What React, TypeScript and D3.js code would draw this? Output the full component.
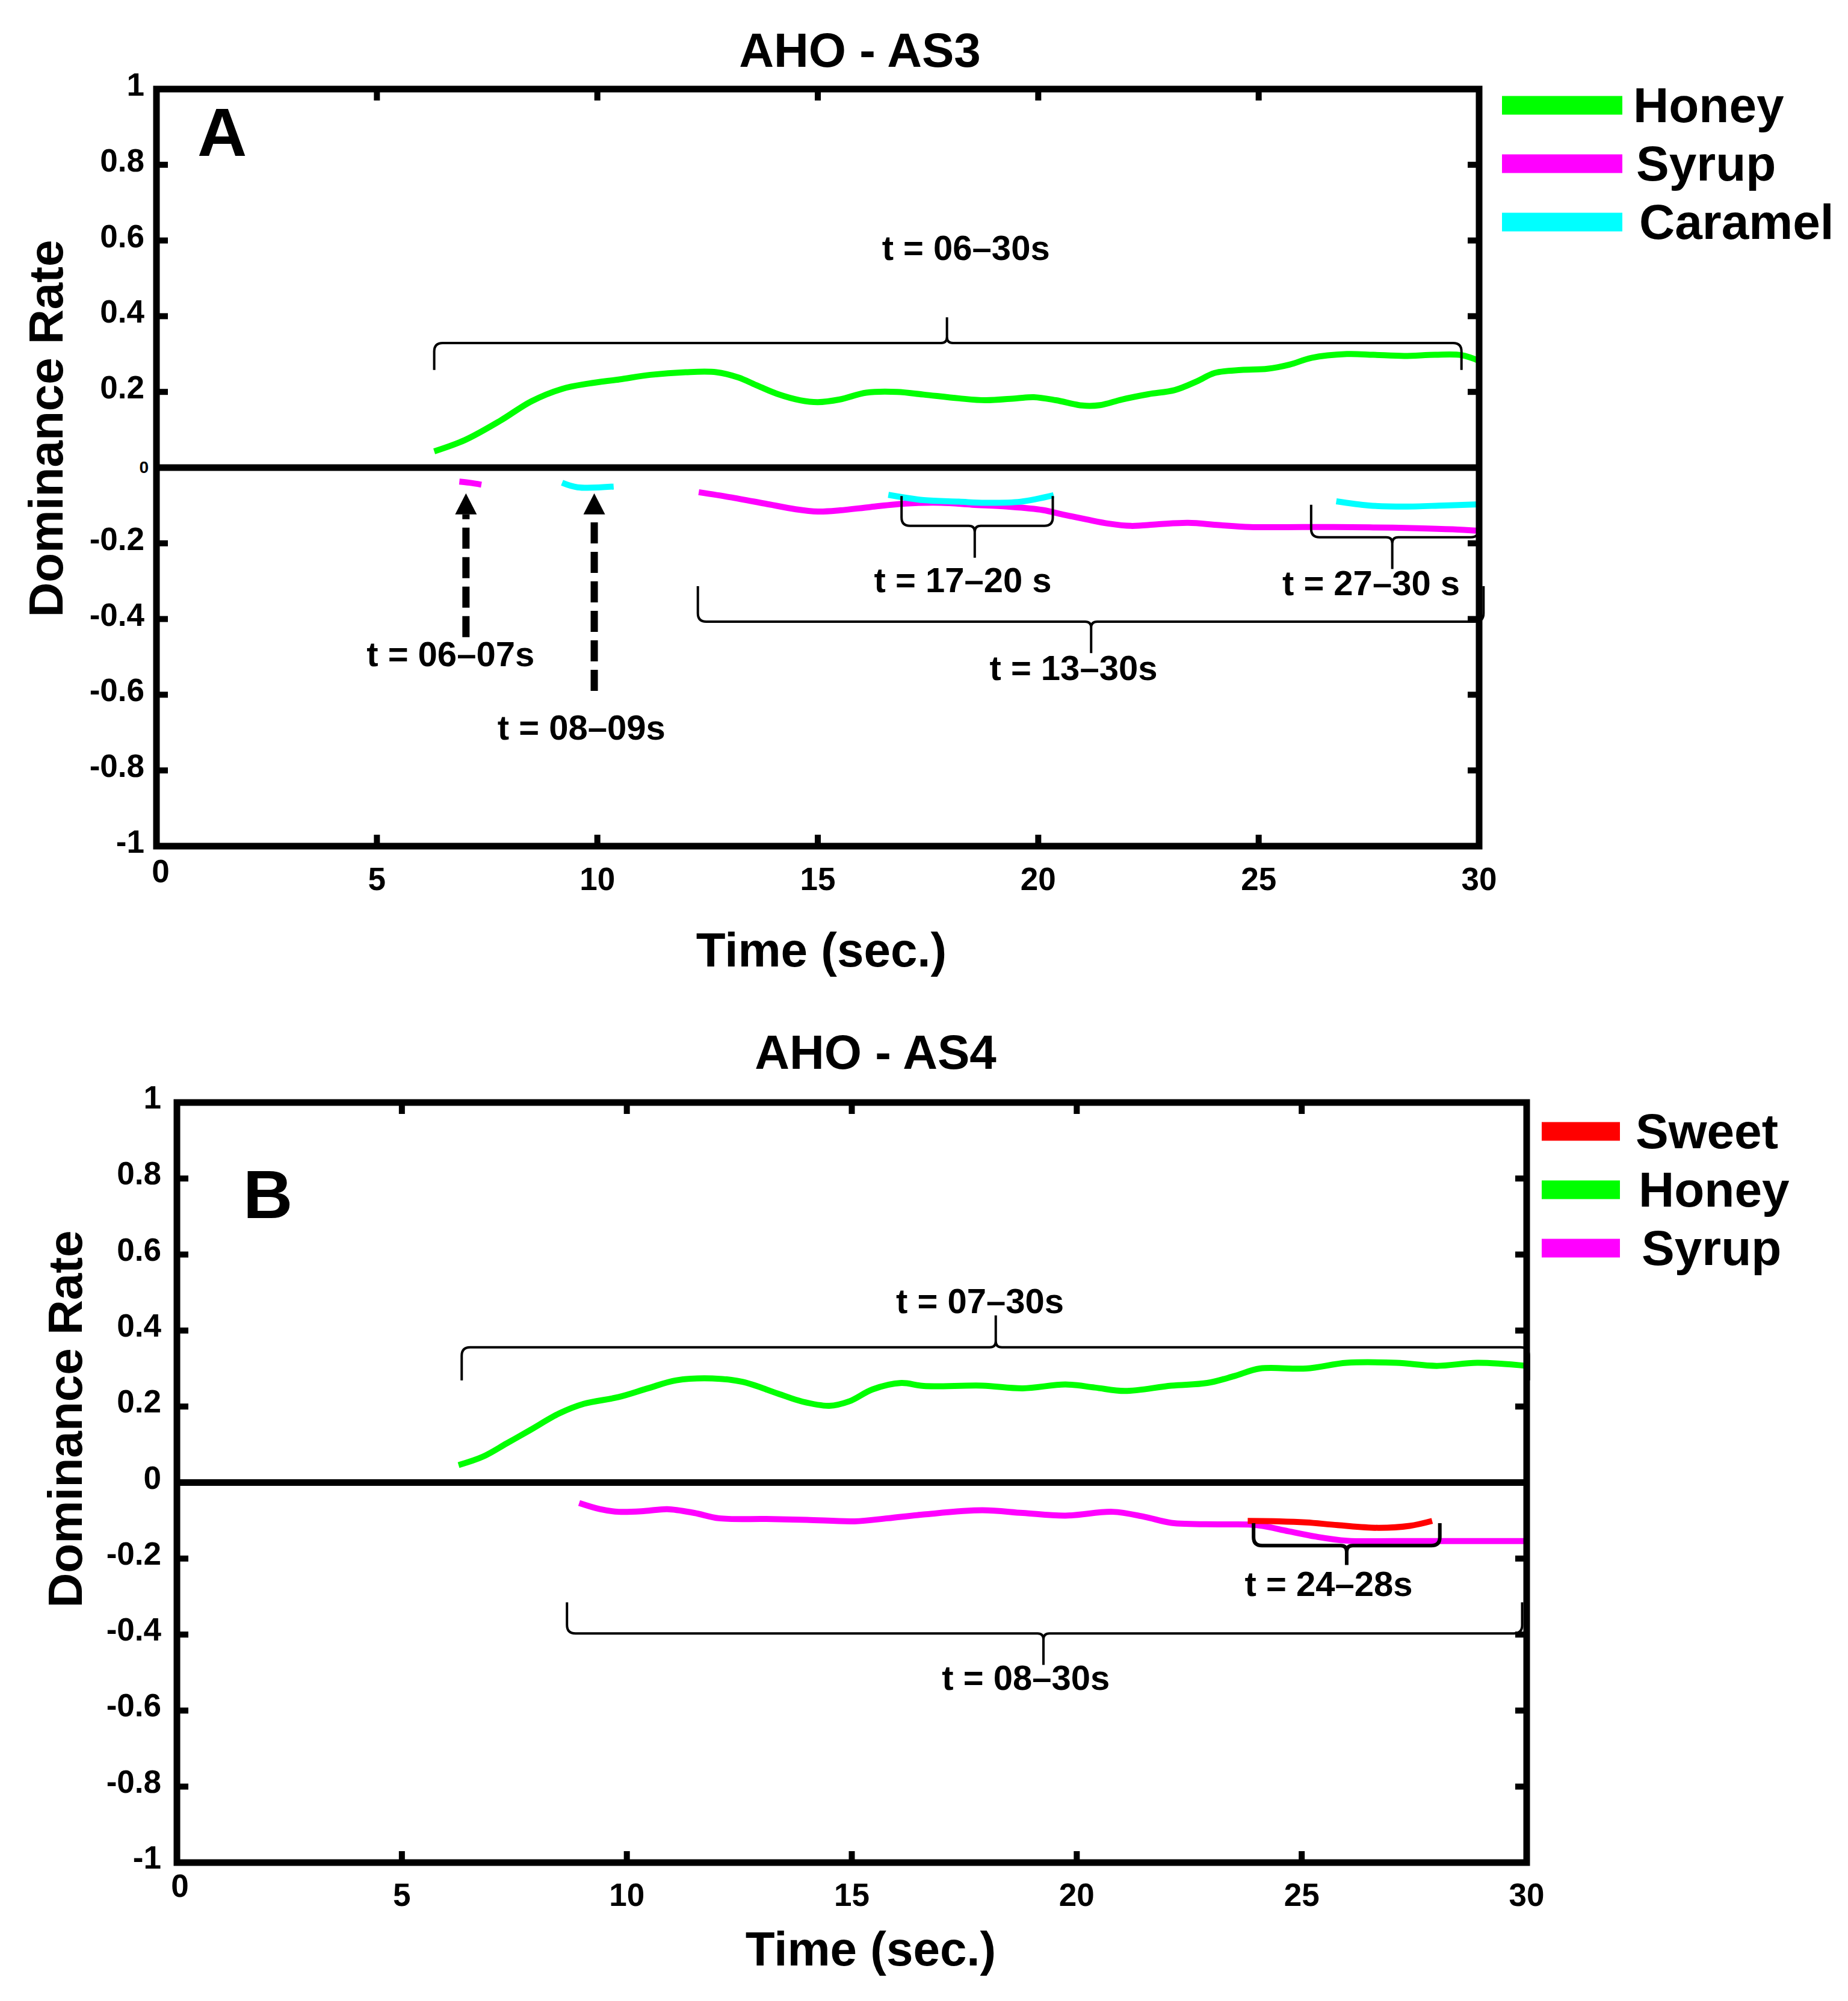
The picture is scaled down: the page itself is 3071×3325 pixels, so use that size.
import { useEffect } from "react"
import * as d3 from "d3"

type Pt = [number, number]

const FONT = "'Liberation Sans', Arial, Helvetica, sans-serif"
const GREEN = "#00ff00"
const MAGENTA = "#ff00ff"
const CYAN = "#00ffff"
const RED = "#ff0000"

const xTicks = [0, 5, 10, 15, 20, 25, 30]
const yTicks = [-1, -0.8, -0.6, -0.4, -0.2, 0, 0.2, 0.4, 0.6, 0.8, 1]

// panel A (AHO - AS3)
const honeyA: Pt[] = [
  [6.3, 0.043], [7.0, 0.073], [7.8, 0.124], [8.5, 0.175], [9.2, 0.208], [9.8, 0.222],
  [10.5, 0.233], [11.2, 0.245], [12.0, 0.252], [12.7, 0.252], [13.2, 0.238], [13.6, 0.218],
  [14.1, 0.194], [14.6, 0.178], [15.0, 0.173], [15.5, 0.18], [16.1, 0.198], [16.8, 0.2],
  [17.4, 0.193], [18.2, 0.183], [18.8, 0.178], [19.5, 0.183], [19.9, 0.186], [20.4, 0.178],
  [21.0, 0.164], [21.4, 0.165], [21.9, 0.18], [22.5, 0.194], [23.1, 0.205], [23.6, 0.228],
  [24.0, 0.25], [24.6, 0.258], [25.2, 0.261], [25.7, 0.272], [26.2, 0.29], [27.0, 0.3],
  [27.6, 0.298], [28.3, 0.295], [29.0, 0.298], [29.6, 0.297], [30.0, 0.282],
]
const syrupA1: Pt[] = [[6.87, -0.037], [7.1, -0.04], [7.37, -0.045]]
const syrupA2: Pt[] = [
  [12.3, -0.065], [13.0, -0.078], [13.8, -0.095], [14.5, -0.11], [15.0, -0.116], [15.5, -0.113],
  [16.2, -0.104], [17.0, -0.095], [17.8, -0.093], [18.5, -0.098], [19.3, -0.103], [20.1, -0.112],
  [20.6, -0.125], [21.1, -0.137], [21.6, -0.148], [22.1, -0.154], [22.7, -0.15], [23.4, -0.146],
  [24.1, -0.152], [24.8, -0.157], [26.0, -0.157], [26.7, -0.157], [27.6, -0.158], [28.6, -0.16],
  [29.4, -0.163], [30.0, -0.167],
]
const caramelA1: Pt[] = [[9.2, -0.04], [9.55, -0.052], [10.37, -0.05]]
const caramelA2: Pt[] = [[16.6, -0.072], [17.4, -0.086], [18.2, -0.09], [18.8, -0.093], [19.6, -0.09], [20.35, -0.073]]
const caramelA3: Pt[] = [[26.76, -0.089], [27.5, -0.1], [28.3, -0.103], [29.2, -0.1], [30.0, -0.097]]

// panel B (AHO - AS4)
const sweetB: Pt[] = [[23.8, -0.101], [24.5, -0.102], [25.1, -0.105], [25.8, -0.112], [26.7, -0.119], [27.4, -0.114], [27.9, -0.101]]
const honeyB: Pt[] = [
  [6.26, 0.046], [6.8, 0.068], [7.33, 0.103], [7.85, 0.138], [8.5, 0.182], [9.04, 0.207],
  [9.82, 0.225], [10.47, 0.248], [11.1, 0.269], [11.9, 0.274], [12.57, 0.265], [13.36, 0.234],
  [13.9, 0.213], [14.5, 0.202], [14.95, 0.214], [15.46, 0.245], [16.1, 0.262], [16.6, 0.254],
  [17.9, 0.255], [18.8, 0.248], [19.75, 0.258], [20.4, 0.25], [21.07, 0.241], [22.1, 0.255],
  [22.9, 0.262], [23.5, 0.28], [24.07, 0.3], [25.1, 0.3], [26.0, 0.315], [27.1, 0.315],
  [28.0, 0.307], [28.9, 0.315], [30.0, 0.307],
]
const syrupB: Pt[] = [
  [8.94, -0.054], [9.4, -0.07], [9.82, -0.077], [10.4, -0.075], [10.9, -0.07], [11.5, -0.08],
  [12.05, -0.094], [13.1, -0.096], [14.0, -0.098], [15.06, -0.102], [15.8, -0.094], [16.6, -0.084],
  [17.9, -0.073], [18.8, -0.08], [19.75, -0.087], [20.8, -0.077], [21.5, -0.09], [22.1, -0.106],
  [23.2, -0.11], [24.0, -0.112], [24.7, -0.128], [25.3, -0.142], [26.0, -0.153], [27.1, -0.154],
  [28.5, -0.154], [30.0, -0.154],
]

// brace annotations: span x0..x1 at y, ends bend to `end`, tip points to tipY
const bracesA = [
  { x0: 6.3, x1: 29.6, tip: 17.93, y: 0.329, end: 0.258, tipY: 0.397, label: "t = 06–30s", lx: 18.36, ly: 0.549, w: 4 },
  { x0: 12.28, x1: 30.1, tip: 21.2, y: -0.407, end: -0.313, tipY: -0.49, label: "t = 13–30s", lx: 20.8, ly: -0.561, w: 4 },
  { x0: 16.9, x1: 20.33, tip: 18.56, y: -0.154, end: -0.075, tipY: -0.238, label: "t = 17–20 s", lx: 18.29, ly: -0.329, w: 4 },
  { x0: 26.19, x1: 30.0, tip: 28.03, y: -0.184, end: -0.098, tipY: -0.268, label: "t = 27–30 s", lx: 27.55, ly: -0.337, w: 4 },
]
const bracesB = [
  { x0: 6.33, x1: 30.05, tip: 18.2, y: 0.356, end: 0.269, tipY: 0.44, label: "t = 07–30s", lx: 17.85, ly: 0.445, w: 4 },
  { x0: 8.67, x1: 29.9, tip: 19.26, y: -0.397, end: -0.315, tipY: -0.48, label: "t = 08–30s", lx: 18.87, ly: -0.545, w: 4 },
  { x0: 23.93, x1: 28.07, tip: 26.0, y: -0.166, end: -0.107, tipY: -0.217, label: "t = 24–28s", lx: 25.6, ly: -0.299, w: 6 },
]
const arrowsA = [
  { t: 7.02, from: -0.448, to: -0.068, label: "t = 06–07s", lx: 6.67, ly: -0.525 },
  { t: 9.93, from: -0.59, to: -0.068, label: "t = 08–09s", lx: 9.64, ly: -0.718 },
]

type Series = { name: string; color: string; segments: Pt[][] }
type Brace = (typeof bracesA)[number]
type Arrow = (typeof arrowsA)[number]

const panels = [
  {
    title: "AHO - AS3", letter: "A",
    left: 260, right: 2458, top: 148, bottom: 1406,
    titleX: 1429, titleY: 111, letterX: 328, letterY: 259,
    ylabX: 104, ylabY: 712, xlabX: 1365, xlabY: 1606,
    tickLabGap: 20, tickLabDy: 11, xLabDy: 73, zeroDx: 7, zeroDy: 60, smallZero: true,
    legend: { x0: 2496, x1: 2696, tx: 2714, y0: 175, step: 97 },
    legendOrder: ["Honey", "Syrup", "Caramel"],
    series: [
      { name: "Honey", color: GREEN, segments: [honeyA] },
      { name: "Syrup", color: MAGENTA, segments: [syrupA1, syrupA2] },
      { name: "Caramel", color: CYAN, segments: [caramelA1, caramelA2, caramelA3] },
    ] as Series[],
    braces: bracesA, arrows: arrowsA,
  },
  {
    title: "AHO - AS4", letter: "B",
    left: 294, right: 2537, top: 1832, bottom: 3095,
    titleX: 1455, titleY: 1776, letterX: 404, letterY: 2024,
    ylabX: 136, ylabY: 2358, xlabX: 1447, xlabY: 3266,
    tickLabGap: 26, tickLabDy: 10, xLabDy: 72, zeroDx: 5, zeroDy: 57, smallZero: false,
    legend: { x0: 2562, x1: 2692, tx: 2718, y0: 1880, step: 97 },
    legendOrder: ["Sweet", "Honey", "Syrup"],
    series: [
      { name: "Syrup", color: MAGENTA, segments: [syrupB] },
      { name: "Honey", color: GREEN, segments: [honeyB] },
      { name: "Sweet", color: RED, segments: [sweetB] },
    ] as Series[],
    braces: bracesB, arrows: [] as Arrow[],
  },
]

type PanelCfg = (typeof panels)[number]

function bracePath(b: Brace, x: d3.ScaleLinear<number, number>, y: d3.ScaleLinear<number, number>) {
  const r = 14
  const X0 = x(b.x0), X1 = x(b.x1), XT = x(b.tip)
  const YL = y(b.y), YE = y(b.end), YT = y(b.tipY)
  const se = Math.sign(YE - YL)
  const st = Math.sign(YT - YL)
  const p = d3.path()
  p.moveTo(X0, YE)
  p.lineTo(X0, YL + se * r)
  p.quadraticCurveTo(X0, YL, X0 + r, YL)
  p.lineTo(XT - 10, YL)
  p.quadraticCurveTo(XT, YL, XT, YL + st * 10)
  p.lineTo(XT, YT)
  p.moveTo(XT, YL + st * 10)
  p.quadraticCurveTo(XT, YL, XT + 10, YL)
  p.lineTo(X1 - r, YL)
  p.quadraticCurveTo(X1, YL, X1, YL + se * r)
  p.lineTo(X1, YE)
  return p.toString()
}

function Panel({ cfg }: { cfg: PanelCfg }) {
  const x = d3.scaleLinear().domain([0, 30]).range([cfg.left, cfg.right])
  const y = d3.scaleLinear().domain([-1, 1]).range([cfg.bottom, cfg.top])
  const line = d3
    .line<Pt>()
    .x((d) => x(d[0]))
    .y((d) => y(d[1]))
    .curve(d3.curveCatmullRom.alpha(0.5))
  const tickLen = 19
  const innerX = xTicks.filter((t) => t > 0 && t < 30)
  const innerY = yTicks.filter((v) => v > -1 && v < 1 && v !== 0)
  const colorOf = (n: string) => cfg.series.find((s) => s.name === n)!.color

  return (
    <g fontFamily={FONT} fontWeight="bold" fill="#000">
      {/* series */}
      {cfg.series.map((s) =>
        s.segments.map((seg, i) => (
          <path key={s.name + i} d={line(seg) || ""} fill="none" stroke={s.color} strokeWidth={10} strokeLinecap="butt" />
        ))
      )}

      {/* frame, zero line, ticks */}
      <rect x={cfg.left} y={cfg.top} width={cfg.right - cfg.left} height={cfg.bottom - cfg.top} fill="none" stroke="#000" strokeWidth={11} />
      <line x1={cfg.left} x2={cfg.right} y1={y(0)} y2={y(0)} stroke="#000" strokeWidth={11} />
      {innerX.map((t) => (
        <g key={"xt" + t} stroke="#000" strokeWidth={10}>
          <line x1={x(t)} x2={x(t)} y1={cfg.bottom} y2={cfg.bottom - tickLen} />
          <line x1={x(t)} x2={x(t)} y1={cfg.top} y2={cfg.top + tickLen} />
        </g>
      ))}
      {innerY.map((v) => (
        <g key={"yt" + v} stroke="#000" strokeWidth={10}>
          <line x1={cfg.left} x2={cfg.left + tickLen} y1={y(v)} y2={y(v)} />
          <line x1={cfg.right} x2={cfg.right - tickLen} y1={y(v)} y2={y(v)} />
        </g>
      ))}

      {/* tick labels */}
      {yTicks.map((v) =>
        v === 0 && cfg.smallZero ? (
          <text key={"yl" + v} x={cfg.left - 13} y={y(v) + 9} fontSize={28} textAnchor="end">0</text>
        ) : (
          <text key={"yl" + v} x={cfg.left - cfg.tickLabGap} y={y(v) + cfg.tickLabDy} fontSize={53} textAnchor="end">
            {String(v)}
          </text>
        )
      )}
      {xTicks.map((t) =>
        t === 0 ? (
          <text key={"xl" + t} x={x(t) + cfg.zeroDx} y={cfg.bottom + cfg.zeroDy} fontSize={53} textAnchor="middle">0</text>
        ) : (
          <text key={"xl" + t} x={x(t)} y={cfg.bottom + cfg.xLabDy} fontSize={53} textAnchor="middle">{String(t)}</text>
        )
      )}

      {/* titles */}
      <text x={cfg.titleX} y={cfg.titleY} fontSize={80} textAnchor="middle">{cfg.title}</text>
      <text x={cfg.letterX} y={cfg.letterY} fontSize={114}>{cfg.letter}</text>
      <text x={cfg.xlabX} y={cfg.xlabY} fontSize={80} textAnchor="middle">Time (sec.)</text>
      <text transform={`translate(${cfg.ylabX},${cfg.ylabY}) rotate(-90)`} fontSize={80} textAnchor="middle">Dominance Rate</text>

      {/* braces */}
      {cfg.braces.map((b) => (
        <g key={b.label}>
          <path d={bracePath(b, x, y)} fill="none" stroke="#000" strokeWidth={b.w} />
          <text x={x(b.lx)} y={y(b.ly)} fontSize={58} textAnchor="middle">{b.label}</text>
        </g>
      ))}

      {/* arrows */}
      {cfg.arrows.map((a) => {
        const tipY = y(a.to)
        const base = tipY + 35
        const ax = x(a.t)
        return (
          <g key={a.label}>
            <line x1={ax} x2={ax} y1={y(a.from)} y2={base} stroke="#000" strokeWidth={12} strokeDasharray="35 14" />
            <path d={`M${ax},${tipY}L${ax + 18},${base}L${ax - 18},${base}Z`} fill="#000" />
            <text x={x(a.lx)} y={y(a.ly)} fontSize={58} textAnchor="middle">{a.label}</text>
          </g>
        )
      })}

      {/* legend */}
      {cfg.legendOrder.map((n, i) => {
        const ly = cfg.legend.y0 + i * cfg.legend.step
        return (
          <g key={"lg" + n}>
            <line x1={cfg.legend.x0} x2={cfg.legend.x1} y1={ly} y2={ly} stroke={colorOf(n)} strokeWidth={31} />
            <text x={cfg.legend.tx + i * 5} y={ly + 28} fontSize={82}>{n}</text>
          </g>
        )
      })}
    </g>
  )
}

export default function App() {
  useEffect(() => {
    document.body.style.margin = "0"
  }, [])
  return (
    <svg width={3071} height={3325} viewBox="0 0 3071 3325" style={{ display: "block", position: "absolute", left: 0, top: 0 }}>
      <rect x={0} y={0} width={3071} height={3325} fill="#fff" />
      {panels.map((p) => (
        <Panel key={p.letter} cfg={p} />
      ))}
    </svg>
  )
}
